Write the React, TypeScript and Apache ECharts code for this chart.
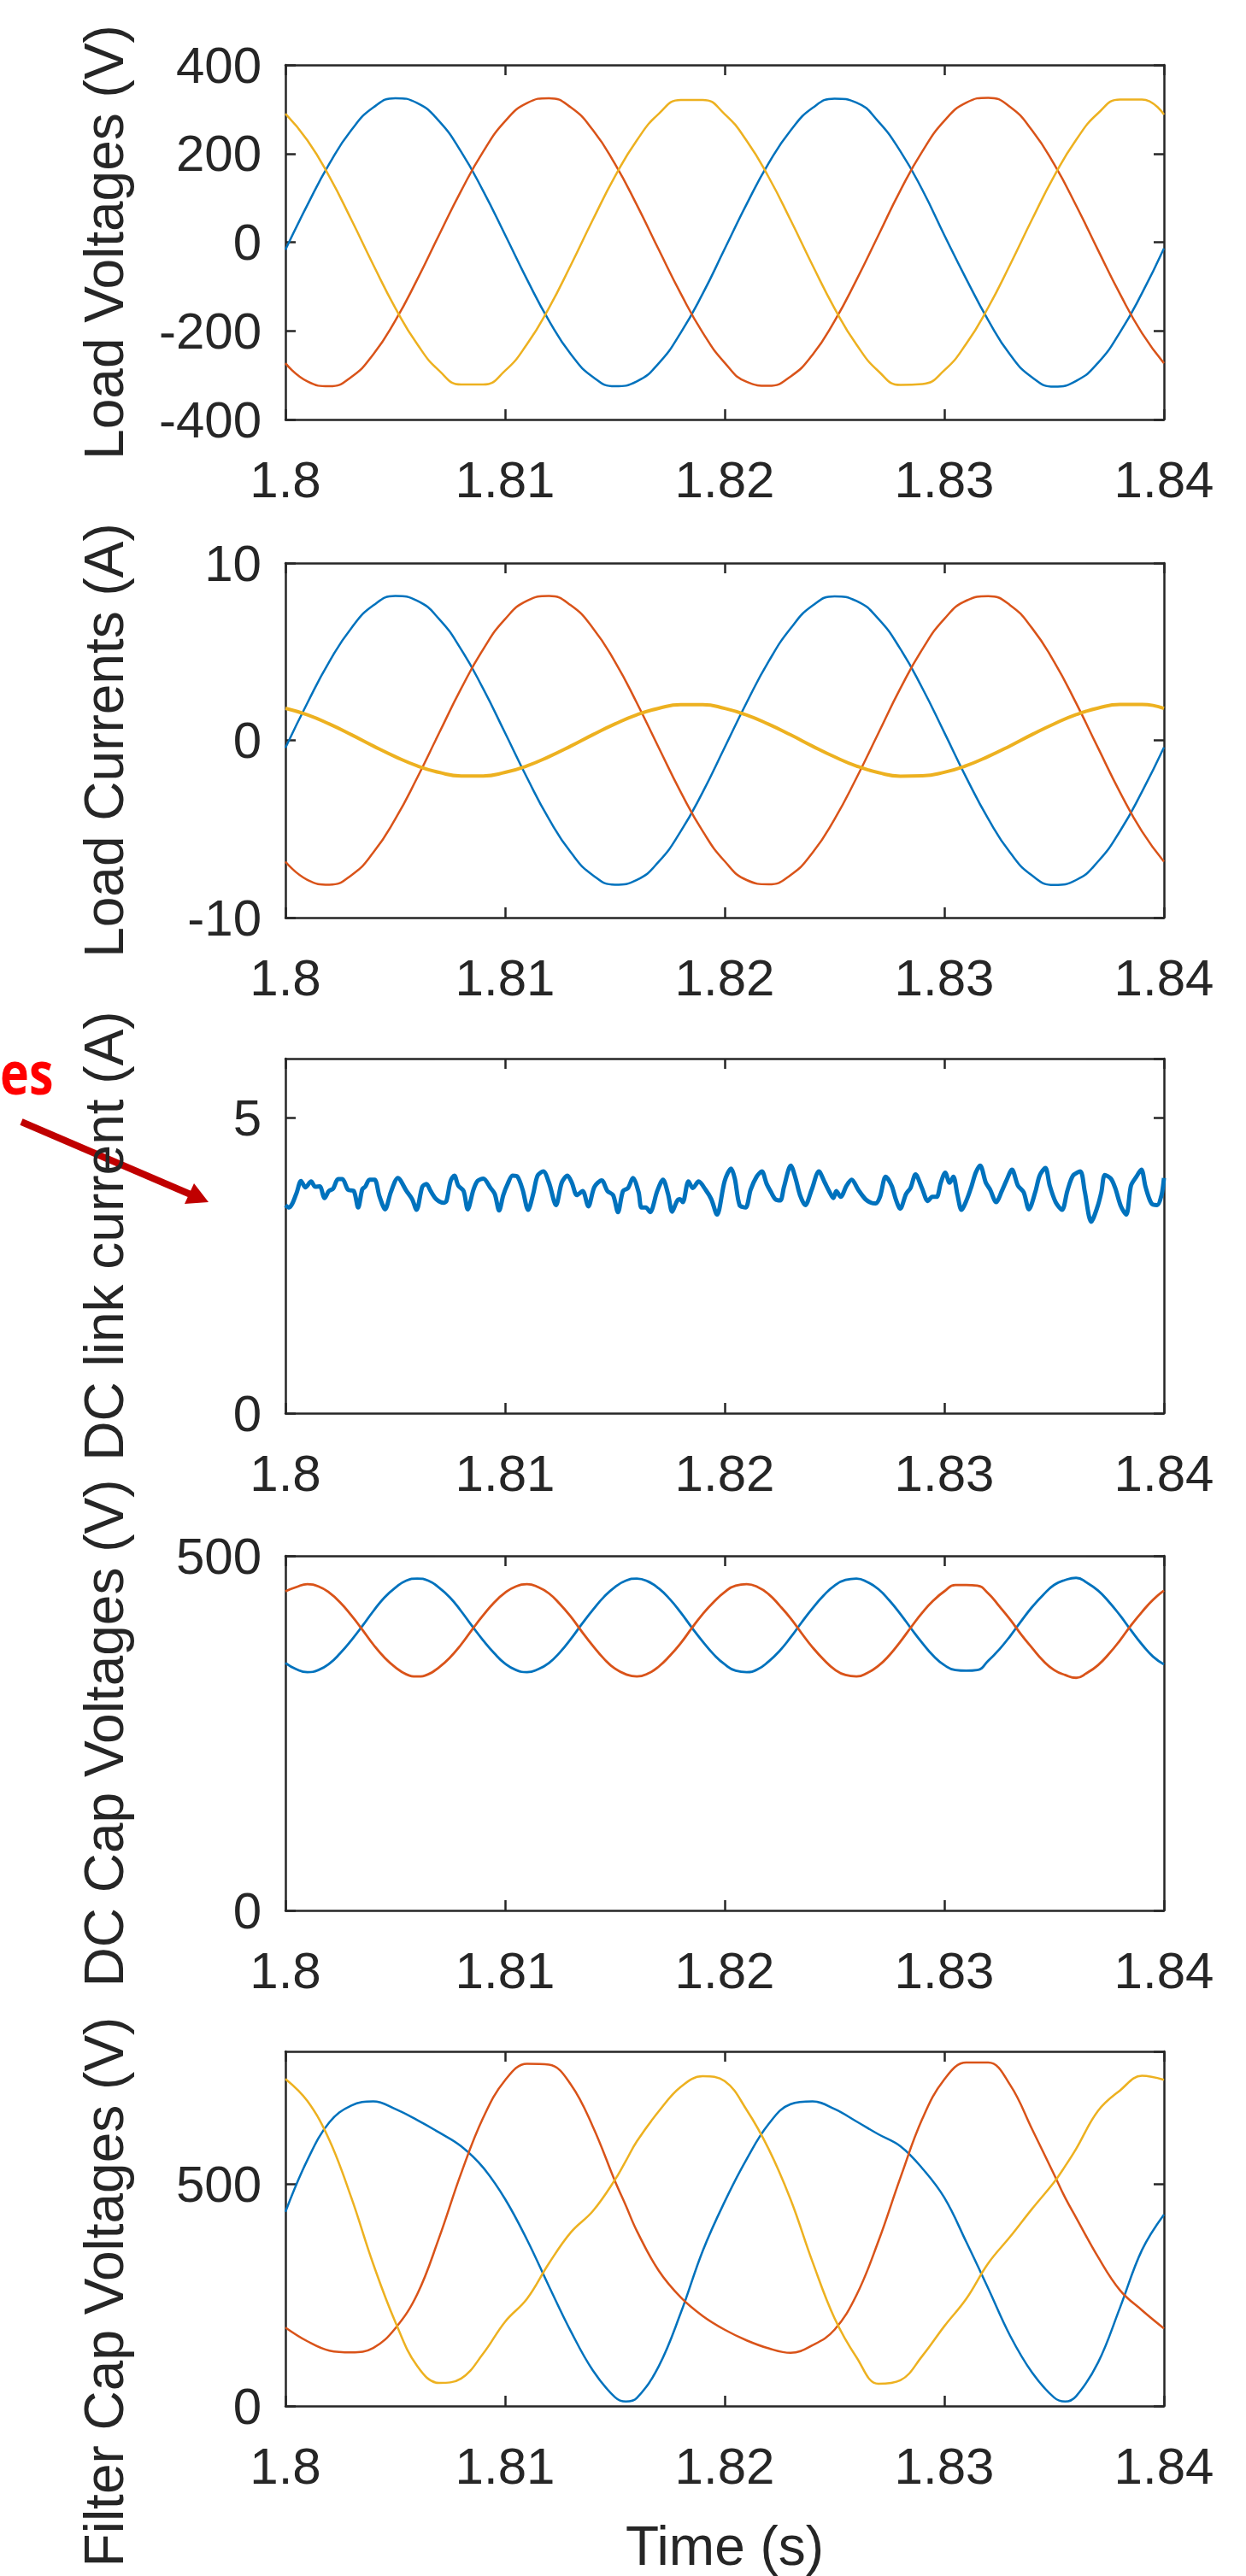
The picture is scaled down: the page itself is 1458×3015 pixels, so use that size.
import React, { useEffect, useRef } from "react";
import * as echarts from "echarts";

// ---------- time grids (ms after t = 1.8 s) ----------
const timeMs1 = [0,1,2,3,4,5,6,7,8,9,10,11,12,13,14,15,16,17,18,19,20,21,22,23,24,25,26,27,28,29,30,31,32,33,34,35,36,37,38,39,40];
const timeMs05 = [0,0.5,1,1.5,2,2.5,3,3.5,4,4.5,5,5.5,6,6.5,7,7.5,8,8.5,9,9.5,10,10.5,11,11.5,12,12.5,13,13.5,14,14.5,15,15.5,16,16.5,17,17.5,18,18.5,19,19.5,20,20.5,21,21.5,22,22.5,23,23.5,24,24.5,25,25.5,26,26.5,27,27.5,28,28.5,29,29.5,30,30.5,31,31.5,32,32.5,33,33.5,34,34.5,35,35.5,36,36.5,37,37.5,38,38.5,39,39.5,40];
const filterTimeMs = [0,1,2,3,4,5,6,7,8,9,10,11,12,13,14,15,15.5,16,17,18,19,20,21,22,23,24,25,26,27,28,29,30,31,32,33,34,35,35.5,36,37,38,39,40];

// ---------- Load voltages (V) ----------
const loadVa = [-17,84,177,253,304,325,314,273,204,116,17,-84,-177,-253,-304,-325,-314,-273,-204,-116,-15,86,178,252,303,324,315,272,205,118,16,-83,-176,-254,-305,-326,-313,-272,-203,-115,-14];
const loadVb = [-273,-314,-325,-304,-253,-177,-84,17,116,204,273,314,325,304,253,177,84,-17,-116,-204,-272,-315,-324,-303,-254,-178,-85,16,117,205,274,315,326,305,252,176,83,-18,-117,-205,-273];
const loadVc = [290,230,148,51,-51,-148,-230,-290,-321,-321,-290,-230,-148,-51,51,148,230,290,321,321,289,229,147,50,-52,-149,-231,-291,-322,-320,-289,-229,-147,-50,52,149,231,291,322,322,288];

// ---------- Load currents (A) ----------
const loadIa = [-0.42,2.11,4.44,6.33,7.61,8.14,7.87,6.84,5.13,2.92,0.42,-2.11,-4.44,-6.33,-7.61,-8.14,-7.87,-6.84,-5.13,-2.92,-0.40,2.13,4.45,6.31,7.60,8.12,7.86,6.85,5.15,2.94,0.44,-2.10,-4.43,-6.34,-7.63,-8.16,-7.88,-6.83,-5.12,-2.90,-0.40];
const loadIb = [-6.84,-7.87,-8.14,-7.61,-6.33,-4.44,-2.11,0.42,2.92,5.13,6.84,7.87,8.14,7.61,6.33,4.44,2.11,-0.42,-2.92,-5.13,-6.82,-7.88,-8.12,-7.60,-6.34,-4.45,-2.12,0.41,2.93,5.14,6.85,7.88,8.13,7.62,6.32,4.43,2.10,-0.43,-2.93,-5.14,-6.84];
const loadIc = [1.81,1.44,0.92,0.32,-0.32,-0.92,-1.44,-1.81,-2.01,-2.01,-1.81,-1.44,-0.92,-0.32,0.32,0.92,1.44,1.81,2.01,2.01,1.80,1.43,0.91,0.31,-0.33,-0.93,-1.45,-1.82,-2.02,-2.00,-1.80,-1.43,-0.91,-0.31,0.33,0.93,1.45,1.82,2.02,2.02,1.80];

// ---------- DC link current (A) ----------
const dcTimeMs = [0.00,0.17,0.32,0.52,0.71,0.91,1.17,1.36,1.56,1.78,1.98,2.17,2.40,2.59,2.85,3.11,3.31,3.50,3.63,3.83,4.06,4.28,4.54,4.80,5.12,5.51,5.77,5.97,6.23,6.42,6.61,6.87,7.20,7.33,7.52,7.69,7.87,8.11,8.30,8.56,8.75,9.01,9.34,9.53,9.73,9.92,10.12,10.34,10.57,10.80,11.05,11.28,11.48,11.74,12.00,12.32,12.58,12.84,13.04,13.27,13.53,13.79,14.07,14.40,14.66,14.92,15.14,15.37,15.60,15.82,16.08,16.21,16.41,16.60,16.93,17.19,17.42,17.61,17.83,17.96,18.09,18.35,18.55,18.81,19.13,19.39,19.65,20.00,20.29,20.46,20.68,20.95,21.18,21.45,21.69,21.91,22.11,22.31,22.53,22.70,23.01,23.23,23.43,23.67,23.96,24.29,24.56,24.75,24.95,25.08,25.28,25.55,25.78,26.08,26.41,26.67,26.87,27.07,27.33,27.60,27.79,27.99,28.26,28.46,28.69,28.98,29.25,29.45,29.65,29.84,30.04,30.24,30.41,30.60,30.78,31.03,31.23,31.43,31.63,31.89,32.09,32.36,32.62,32.82,33.08,33.35,33.61,33.85,34.14,34.34,34.60,34.80,35.07,35.36,35.60,35.86,36.19,36.39,36.69,36.98,37.15,37.31,37.58,37.78,38.04,38.28,38.50,38.74,38.97,39.16,39.43,39.69,39.89,40.00];
const dcCurrent = [3.52,3.48,3.55,3.74,3.93,3.82,3.92,3.83,3.84,3.64,3.76,3.80,3.96,3.96,3.78,3.76,3.48,3.79,3.83,3.95,3.95,3.67,3.45,3.74,3.98,3.76,3.62,3.44,3.83,3.88,3.76,3.62,3.56,3.59,3.93,4.02,3.85,3.76,3.45,3.78,3.93,3.97,3.81,3.71,3.43,3.69,3.88,4.02,4.00,3.78,3.44,3.71,4.02,4.09,3.90,3.52,3.90,4.02,3.90,3.69,3.76,3.50,3.83,3.94,3.76,3.69,3.40,3.76,3.81,3.98,3.74,3.48,3.48,3.40,3.76,3.95,3.71,3.41,3.59,3.62,3.57,3.92,3.81,3.92,3.78,3.62,3.36,3.93,4.14,3.97,3.52,3.48,3.78,4.00,4.09,3.88,3.74,3.62,3.60,3.83,4.19,3.97,3.69,3.52,3.78,4.09,3.90,3.76,3.64,3.76,3.66,3.85,3.95,3.78,3.62,3.56,3.55,3.66,4.00,3.85,3.62,3.46,3.71,3.81,4.04,3.81,3.59,3.66,3.66,3.90,4.07,3.90,4.00,3.69,3.44,3.62,3.83,4.07,4.19,3.90,3.78,3.57,3.76,3.93,4.12,3.85,3.74,3.45,3.74,4.02,4.15,3.85,3.57,3.44,3.76,4.02,4.09,3.76,3.24,3.50,3.74,4.03,3.97,3.81,3.50,3.36,3.85,4.00,4.12,3.83,3.55,3.52,3.69,3.98];

// ---------- DC capacitor voltages (V) ----------
const dcCapV1 = [349,340,336,339,348,363,381,401,422,441,455,465,468,465,455,441,422,401,381,363,348,339,336,340,349,364,383,404,424,442,456,465,468,464,454,439,420,399,379,361,347,338,336,340,351,366,385,406,426,444,458,466,468,463,453,437,418,397,377,359,346,339,338,339,352,368,387,408,428,445,459,466,469,462,451,435,416,395,375,358,347];
const dcCapV2 = [450,456,460,457,448,434,416,396,375,357,343,333,330,333,343,357,375,396,416,434,448,457,460,456,447,432,414,393,373,355,341,333,330,334,344,359,377,398,418,435,449,458,460,456,446,430,412,391,371,354,340,332,330,335,345,360,379,400,420,437,450,459,459,458,447,429,410,389,370,352,339,332,328,335,346,362,381,402,421,438,451];

// ---------- Filter capacitor voltages (V) ----------
const filterVa = [438,555,640,678,687,670,645,617,586,538,467,375,270,168,80,20,10,18,90,210,350,461,557,636,681,687,670,642,613,586,536,470,370,265,158,75,19,10,22,98,222,352,432];
const filterVb = [177,146,125,121,131,175,252,380,525,650,735,772,770,725,630,508,452,395,305,245,203,172,148,130,120,137,172,250,372,515,648,737,775,775,724,624,522,470,425,336,261,216,175];
const filterVc = [738,688,600,470,320,190,90,52,62,118,190,242,322,392,440,510,553,597,665,720,744,733,668,580,466,325,198,110,50,58,113,180,242,322,382,445,505,541,580,666,712,745,736];

// ---------- axis settings ----------
const yNames = ["Load Voltages (V)", "Load Currents (A)", "DC link current (A)", "DC Cap Voltages (V)", "Filter Cap Voltages (V)"];
const yMins = [-400, -10, 0, 0, 0];
const yMaxs = [400, 10, 6, 500, 800];
const yIntervals = [200, 10, 5, 500, 500];
const yShowMax = [true, true, false, true, false];

const BLUE = "#0072BD";
const RED = "#D95319";
const YELLOW = "#EDB120";
const AX = "#262626";
const FONT = "'Liberation Sans', Arial, Helvetica, sans-serif";

const toSec = (ms: number) => 1.8 + ms / 1000;

export default function App() {
  const ref = useRef<HTMLDivElement>(null);

  useEffect(() => {
    if (!ref.current) return;
    const chart = echarts.init(ref.current, undefined, { renderer: "svg" });

    const panelTops = [76, 659, 1239, 1821, 2401];
    const grids = panelTops.map((top) => ({ left: 334, top, width: 1028, height: 415, show: false }));

    const xAxes: any[] = [];
    const yAxes: any[] = [];
    panelTops.forEach((_, i) => {
      const common = {
        gridIndex: i,
        type: "value",
        min: 1.8,
        max: 1.84,
        interval: 0.01,
        axisLine: { show: true, onZero: false, lineStyle: { color: AX, width: 2.5 } },
        axisTick: { show: true, inside: true, length: 12, lineStyle: { color: AX, width: 2.5 } },
        splitLine: { show: false },
      };
      xAxes.push({
        ...common,
        position: "bottom",
        axisLabel: {
          show: true,
          margin: 40,
          fontSize: 60,
          color: AX,
          fontFamily: FONT,
          showMinLabel: true,
          showMaxLabel: true,
          formatter: (v: number) => String(Math.round(v * 100) / 100),
        },
        name: i === 4 ? "Time (s)" : "",
        nameLocation: "middle",
        nameGap: 132,
        nameTextStyle: { fontSize: 64, color: AX, fontFamily: FONT },
      });
      xAxes.push({ ...common, position: "top", axisLabel: { show: false } });

      const ycommon = {
        gridIndex: i,
        type: "value",
        min: yMins[i],
        max: yMaxs[i],
        interval: yIntervals[i],
        axisLine: { show: true, onZero: false, lineStyle: { color: AX, width: 2.5 } },
        axisTick: { show: true, inside: true, length: 12, lineStyle: { color: AX, width: 2.5 } },
        splitLine: { show: false },
      };
      yAxes.push({
        ...ycommon,
        position: "left",
        axisLabel: {
          show: true,
          margin: 28,
          fontSize: 60,
          color: AX,
          fontFamily: FONT,
          showMinLabel: true,
          showMaxLabel: yShowMax[i],
        },
        name: yNames[i],
        nameLocation: "middle",
        nameGap: 180,
        nameTextStyle: {
          fontSize: 64,
          color: AX,
          fontFamily: FONT,
          padding: i === 4 ? [0, 148, 0, 0] : 0,
        },
      });
      yAxes.push({ ...ycommon, position: "right", axisLabel: { show: false } });
    });

    const line = (i: number, xs: number[], ys: number[], color: string, width: number, smooth: any) => ({
      type: "line",
      xAxisIndex: 2 * i,
      yAxisIndex: 2 * i,
      data: xs.map((t, k) => [toSec(t), ys[k]]),
      showSymbol: false,
      symbol: "none",
      smooth,
      silent: true,
      lineStyle: { color, width },
      itemStyle: { color },
    });

    const series = [
      line(0, timeMs1, loadVa, BLUE, 2.5, true),
      line(0, timeMs1, loadVb, RED, 2.5, true),
      line(0, timeMs1, loadVc, YELLOW, 2.5, true),
      line(1, timeMs1, loadIa, BLUE, 2.5, true),
      line(1, timeMs1, loadIb, RED, 2.5, true),
      line(1, timeMs1, loadIc, YELLOW, 4, true),
      line(2, dcTimeMs, dcCurrent, BLUE, 5, 0.3),
      line(3, timeMs05, dcCapV1, BLUE, 2.8, true),
      line(3, timeMs05, dcCapV2, RED, 2.8, true),
      line(4, filterTimeMs, filterVa, BLUE, 2.5, 0.4),
      line(4, filterTimeMs, filterVb, RED, 2.5, 0.4),
      line(4, filterTimeMs, filterVc, YELLOW, 2.5, 0.4),
    ];

    const graphic = [
      {
        type: "text",
        x: 0,
        y: 1254,
        scaleX: 0.82,
        style: {
          text: "es",
          fontSize: 70,
          fontWeight: "bold",
          fontFamily: "'Open Sans', 'Liberation Sans', sans-serif",
          fill: "#FF0000",
          align: "left",
          verticalAlign: "middle",
        },
      },
      {
        type: "line",
        shape: { x1: 25, y1: 1313, x2: 223, y2: 1398 },
        style: { stroke: "#C00000", lineWidth: 8 },
      },
      {
        type: "polygon",
        shape: { points: [[244, 1407], [216, 1409], [227, 1385]] },
        style: { fill: "#C00000" },
      },
    ];

    chart.setOption({
      animation: false,
      backgroundColor: "#ffffff",
      textStyle: { fontFamily: FONT },
      grid: grids,
      xAxis: xAxes,
      yAxis: yAxes,
      series,
      graphic,
    });

    return () => chart.dispose();
  }, []);

  return (
    <div
      ref={ref}
      style={{ position: "absolute", left: 0, top: 0, width: 1458, height: 3015, background: "#fff" }}
    />
  );
}
